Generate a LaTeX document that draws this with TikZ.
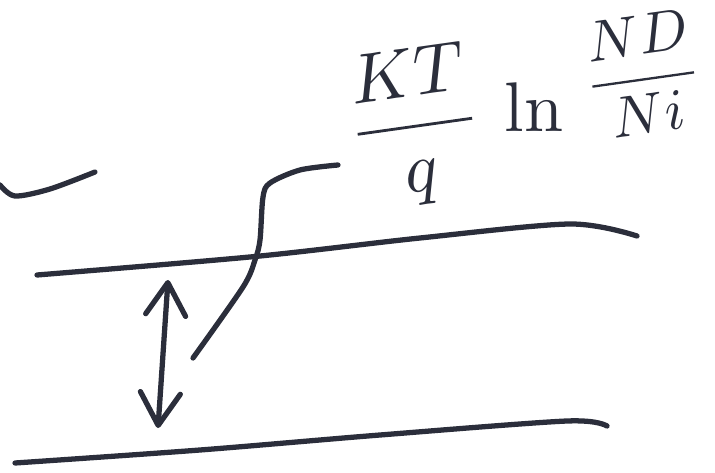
\documentclass[tikz,border=0pt]{standalone}
\usepackage{xcolor}
\usepackage{tikz}
\usepackage{amsmath}
\usetikzlibrary{arrows.meta}

\begin{document}
\begin{tikzpicture}[line cap=round, line join=round]

% Colore della penna
\definecolor{penna}{HTML}{2B2E3B}

% Spessore del tratto
\def\lw{3pt}

% Cornice
\useasboundingbox (0,0) rectangle (14.3,9.44);

% Formula
\node[text=penna, inner sep=0pt, scale=4, rotate=8] (fracKT) at (8.3,6.9) {$\dfrac{KT}{q}$};
\node[text=penna, inner sep=0pt, scale=4] (lnNode) at (10.68,7.3) {$\ln$};
\node[text=penna, inner sep=0pt, scale=3.3, rotate=8] (fracND) at (12.85,7.95) {$\dfrac{ND}{Ni}$};

% Trattino a sinistra
\draw[penna, line width=\lw] plot[smooth] coordinates {(0,5.74) (0.3,5.52) (1.0,5.66) (1.9,6.0)};

% Linea superiore
\draw[penna, line width=\lw] plot[smooth] coordinates {(0.74,3.94) (5.1,4.31) (8.4,4.68) (11.4,4.96) (12.74,4.72)};

% Linea inferiore
\draw[penna, line width=\lw] plot[smooth] coordinates {(0.30,0.18) (4.0,0.44) (7.6,0.74) (11.34,1.02) (12.14,0.92)};

% Curva a S
\draw[penna, line width=\lw] plot[smooth] coordinates {(6.76,6.14) (6.0,6.04) (5.4,5.78) (5.26,5.5) (5.2,4.64) (5.1,4.24) (4.86,3.7) (3.86,2.28)};

% Freccia doppia
\coordinate (aTop) at (3.36,3.84);
\coordinate (aBot) at (3.16,0.88);
\draw[penna, line width=\lw, {Straight Barb[length=6.5mm,width=8mm,round]}-{Straight Barb[length=6.5mm,width=8mm,round]}] (aTop) -- (aBot);

\end{tikzpicture}
\end{document}
